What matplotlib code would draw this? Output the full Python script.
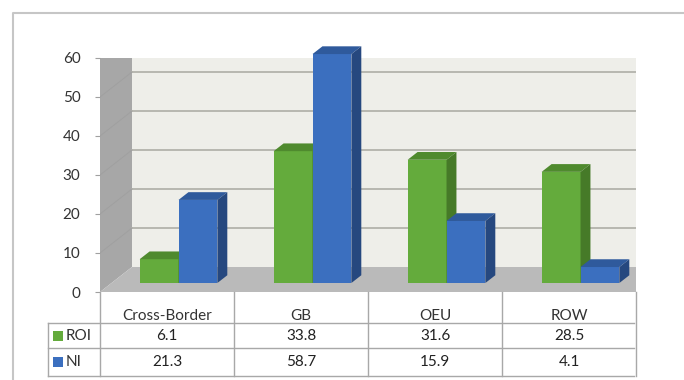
import matplotlib
matplotlib.use("Agg")
import matplotlib.pyplot as plt
import matplotlib.transforms as mtransforms
from matplotlib.lines import Line2D
from matplotlib.patches import Polygon, Rectangle

categories = ["Cross-Border", "GB", "OEU", "ROW"]
series_names = ["ROI", "NI"]
roi = [6.1, 33.8, 31.6, 28.5]
ni = [21.3, 58.7, 15.9, 4.1]
y_ticks = [0, 10, 20, 30, 40, 50, 60]

front_colors = ["#64ab3c", "#3b6fbf"]
top_colors = ["#4f8a2e", "#2f5a9c"]
side_colors = ["#467a28", "#26487f"]

plt.rcParams["font.family"] = ["Lato", "DejaVu Sans"]

W, H = 684, 380
fig = plt.figure(figsize=(W / 100, H / 100), dpi=100)
fig.patch.set_facecolor("white")


def fx(px):
    return px / W


def fy(py):
    return 1 - py / H


# front plane of the 3D box: x 100..636 px, value 0..60 -> y 292..58 px
ax = fig.add_axes([fx(100), fy(292), fx(536), 234 / H])
ax.set_xlim(-0.5, 3.5)
ax.set_ylim(0, 60)
ax.patch.set_visible(False)
for sp in ax.spines.values():
    sp.set_visible(False)

# depth of the box in data units (32 px right, 25 px up)
DX = 32 / 134
DY = 25 / 3.9
x0, x1, ytop = -0.5, 3.5, max(y_ticks)

# walls and floor
ax.add_patch(Polygon([(x0 + DX, DY), (x1 + DX, DY), (x1 + DX, ytop + DY), (x0 + DX, ytop + DY)],
                     closed=True, facecolor="#eeeee9", edgecolor="none", zorder=0))
ax.add_patch(Polygon([(x0, 0), (x0 + DX, DY), (x0 + DX, ytop + DY), (x0, ytop)],
                     closed=True, facecolor="#a7a7a7", edgecolor="none", zorder=0))
ax.add_patch(Polygon([(x0, 0), (x1, 0), (x1 + DX, DY), (x0 + DX, DY)],
                     closed=True, facecolor="#bababa", edgecolor="none", zorder=1))

# gridlines on back wall and (faint) on side wall
for v in y_ticks[1:]:
    ax.plot([x0 + DX, x1 + DX], [v + DY, v + DY], color="#b3b3ab", lw=1.3, zorder=0.5)
    ax.plot([x0, x0 + DX], [v, v + DY], color="#a0a0a0", lw=0.7, zorder=0.5)

# bars
w = 0.29
d0 = 0.36   # depth position of the bar fronts
bd = 0.31   # bar depth
for s, vals in enumerate([roi, ni]):
    for i, v in enumerate(vals):
        xl = i - w + s * w + d0 * DX
        yb = d0 * DY
        ox, oy = bd * DX, bd * DY
        z = 2 + i * 2 + s
        ax.add_patch(Rectangle((xl, yb), w, v, facecolor=front_colors[s],
                               edgecolor="none", zorder=z, clip_on=False))
        ax.add_patch(Polygon([(xl, yb + v), (xl + w, yb + v), (xl + w + ox, yb + v + oy),
                              (xl + ox, yb + v + oy)], closed=True,
                             facecolor=top_colors[s], edgecolor="none", zorder=z, clip_on=False))
        ax.add_patch(Polygon([(xl + w, yb), (xl + w + ox, yb + oy), (xl + w + ox, yb + v + oy),
                              (xl + w, yb + v)], closed=True,
                             facecolor=side_colors[s], edgecolor="none", zorder=z, clip_on=False))

# axes ticks
ax.set_yticks(y_ticks)
ax.tick_params(axis="y", length=3.6, width=0.8, color="#a0a0a0", pad=10.5,
               labelsize=11, labelcolor="#333333")
ax.set_xticks(range(len(categories)))
ax.set_xticklabels(categories)
ax.tick_params(axis="x", length=0, pad=12.5, labelsize=11, labelcolor="#333333")

# data table
tr = mtransforms.blended_transform_factory(ax.transData, fig.transFigure)
line_kw = dict(color="#a8a8a8", lw=1.0)
for xb in [x0 + k for k in range(len(categories) + 1)]:
    fig.add_artist(Line2D([xb, xb], [fy(292), fy(376)], transform=tr, **line_kw))
for yp in [323, 348, 376]:
    fig.add_artist(Line2D([fx(48), fx(634)], [fy(yp), fy(yp)], transform=fig.transFigure, **line_kw))
fig.add_artist(Line2D([fx(48), fx(48)], [fy(323), fy(376)], transform=fig.transFigure, **line_kw))

row_y = [336, 362]
for s, (name, vals) in enumerate(zip(series_names, [roi, ni])):
    fig.add_artist(Rectangle((fx(53), fy(row_y[s] + 5)), fx(10), 10 / H,
                             facecolor=front_colors[s], edgecolor="none", transform=fig.transFigure))
    fig.text(fx(66), fy(row_y[s]), name, ha="left", va="center", fontsize=11, color="#333333")
    for i, v in enumerate(vals):
        fig.text(i, fy(row_y[s]), f"{v:.1f}", transform=tr, ha="center", va="center",
                 fontsize=11, color="#222222")

# outer chart frame
fig.add_artist(Line2D([fx(13), fx(13), fx(684)], [fy(380), fy(13), fy(13)],
                      transform=fig.transFigure, color="#c6c6c6", lw=1.5))

fig.savefig("out.png", dpi=100)
